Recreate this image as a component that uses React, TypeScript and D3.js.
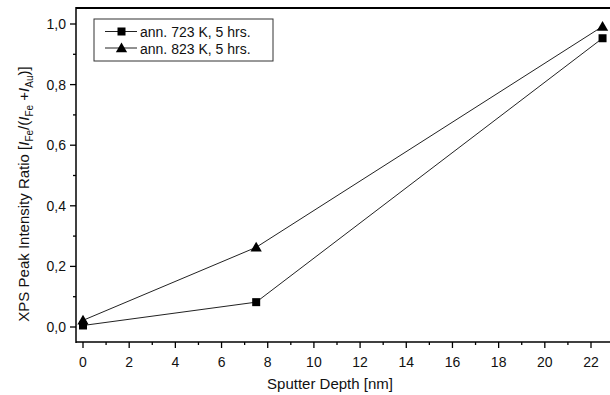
import React from "react";
import * as d3 from "d3";

const depth = [0, 7.5, 22.5];
const ratio723 = [0.005, 0.082, 0.953];
const ratio823 = [0.022, 0.263, 0.992];
const seriesNames = ["ann. 723 K, 5 hrs.", "ann. 823 K, 5 hrs."];
const xTicks = [0, 2, 4, 6, 8, 10, 12, 14, 16, 18, 20, 22];
const yTicks = [0, 0.2, 0.4, 0.6, 0.8, 1.0];

const W = 610, H = 395;
const left = 76, top = 8, bottom = 342;
const x = d3.scaleLinear().domain([0, 22]).range([83, 591]);
const y = d3.scaleLinear().domain([0, 1]).range([327, 24]);
const font = "Liberation Sans, Arial, sans-serif";

export default function App() {
  const line = d3.line<[number, number]>().x(d => x(d[0])).y(d => y(d[1]));
  const s1 = depth.map((d, i) => [d, ratio723[i]] as [number, number]);
  const s2 = depth.map((d, i) => [d, ratio823[i]] as [number, number]);
  const xMinor = d3.range(1, 23, 2);
  const yMinor = d3.range(-0.0, 1.05, 0.1).filter((v) => Math.round(v * 10) % 2 === 1);
  const tri = d3.symbol().type(d3.symbolTriangle).size(55)();
  const sq = (cx: number, cy: number, k: string) => (
    <rect key={k} x={cx - 4} y={cy - 4} width={8} height={8} fill="#000" />
  );
  return (
    <svg width={W} height={H} style={{ position: "absolute", left: 0, top: 0, background: "#fff" }}>
      <rect width={W} height={H} fill="#fff" />
      {/* frame */}
      <line x1={left} x2={W} y1={top} y2={top} stroke="#000" strokeWidth={2.2} />
      <line x1={left} x2={left} y1={top - 1} y2={bottom + 1} stroke="#000" strokeWidth={1.5} />
      <line x1={left} x2={W} y1={bottom} y2={bottom} stroke="#000" strokeWidth={1.5} />
      {/* x ticks */}
      {xTicks.map((t) => (
        <g key={"xt" + t}>
          <line x1={x(t)} x2={x(t)} y1={bottom} y2={bottom + 6} stroke="#000" strokeWidth={1.3} />
          <text x={x(t)} y={367} fontFamily={font} fontSize={14} textAnchor="middle" fill="#111">{t}</text>
        </g>
      ))}
      {xMinor.map((t) => (
        <line key={"xm" + t} x1={x(t)} x2={x(t)} y1={bottom} y2={bottom + 3} stroke="#000" strokeWidth={1.3} />
      ))}
      {/* y ticks */}
      {yTicks.map((t) => (
        <g key={"yt" + t}>
          <line x1={left - 6} x2={left} y1={y(t)} y2={y(t)} stroke="#000" strokeWidth={1.3} />
          <text x={66} y={y(t) + 5} fontFamily={font} fontSize={14} textAnchor="end" fill="#111">
            {t.toFixed(1).replace(".", ",")}
          </text>
        </g>
      ))}
      {yMinor.map((t) => (
        <line key={"ym" + t} x1={left - 3} x2={left} y1={y(t)} y2={y(t)} stroke="#000" strokeWidth={1.3} />
      ))}
      {/* lines */}
      <path d={line(s1) || ""} fill="none" stroke="#222" strokeWidth={1} />
      <path d={line(s2) || ""} fill="none" stroke="#222" strokeWidth={1} />
      {s1.map((d, i) => sq(x(d[0]), y(d[1]), "s" + i))}
      {s2.map((d, i) => (
        <path key={"t" + i} d={tri || ""} transform={`translate(${x(d[0])},${y(d[1]) + 1})`} fill="#000" />
      ))}
      {/* legend */}
      <rect x={94} y={19} width={179} height={42} fill="#fff" stroke="#333" strokeWidth={1} />
      <line x1={105} x2={137} y1={31.5} y2={31.5} stroke="#222" strokeWidth={1} />
      {sq(121.5, 31.5, "ls")}
      <text x={140} y={37} fontFamily={font} fontSize={14} fill="#111">{seriesNames[0]}</text>
      <line x1={105} x2={137} y1={48} y2={48} stroke="#222" strokeWidth={1} />
      <path d={tri || ""} transform={`translate(121.5,49)`} fill="#000" />
      <text x={140} y={53.5} fontFamily={font} fontSize={14} fill="#111">{seriesNames[1]}</text>
      {/* axis titles */}
      <text x={330} y={389} fontFamily={font} fontSize={15} textAnchor="middle" fill="#111">Sputter Depth [nm]</text>
      <text transform={`translate(29,194) rotate(-90)`} fontFamily={font} fontSize={15} textAnchor="middle" fill="#111">
        XPS Peak Intensity Ratio [<tspan fontStyle="italic">I</tspan>
        <tspan fontSize={10} dy={4}>Fe</tspan>
        <tspan dy={-4}>/(</tspan>
        <tspan fontStyle="italic">I</tspan>
        <tspan fontSize={10} dy={4}>Fe</tspan>
        <tspan dy={-4}> +</tspan>
        <tspan fontStyle="italic">I</tspan>
        <tspan fontSize={10} dy={4}>Au</tspan>
        <tspan dy={-4}>)]</tspan>
      </text>
    </svg>
  );
}
